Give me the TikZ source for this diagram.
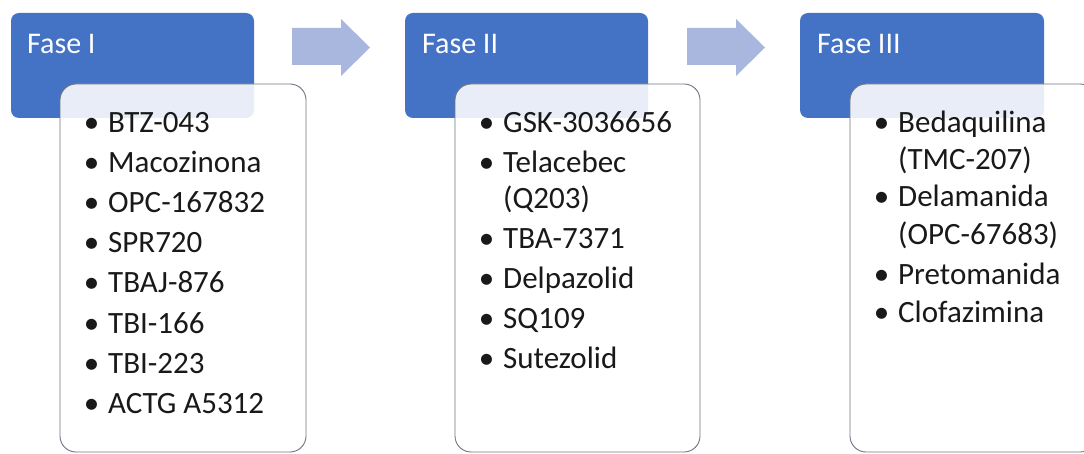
\documentclass[tikz,border=0pt]{standalone}
\usepackage{fontspec}
\setmainfont{Carlito}
\definecolor{phaseblue}{RGB}{68,114,196}
\definecolor{arrowblue}{RGB}{169,183,222}
\definecolor{edgegray}{RGB}{110,118,130}
\definecolor{txt}{RGB}{25,25,25}
\tikzset{
  phasebox/.style={fill=phaseblue, rounded corners=8pt},
  listbox/.style={draw=edgegray, line width=0.9pt, fill=white, fill opacity=0.88, rounded corners=16pt},
  arrowshape/.style={fill=arrowblue},
  hdr/.style={anchor=base west, inner sep=0pt, text=white, font=\fontsize{30}{36}\selectfont},
  itm/.style={anchor=base west, inner sep=0pt, text=txt, font=\fontsize{31}{38}\selectfont},
}
\newcommand{\bul}{\llap{•\hspace{9pt}}}
\begin{document}
\begin{tikzpicture}[x=1pt,y=-1pt]
\useasboundingbox (0,0) rectangle (1084,454);
\clip (0,0) rectangle (1084,454);
% arrows
\fill[arrowshape] (292,28) -- (341,28) -- (341,19) -- (370,47.5) -- (341,76) -- (341,65) -- (292,65) -- cycle;
\fill[arrowshape] (687,28) -- (736,28) -- (736,19) -- (765,47.5) -- (736,76) -- (736,65) -- (687,65) -- cycle;
% phase boxes
\fill[phasebox] (11,13) rectangle (254,118);
\fill[phasebox] (405,13) rectangle (648,118);
\fill[phasebox] (800,13) rectangle (1044,118);
\node[hdr] (h1) at (27,54) {Fase I};
\node[hdr] (h2) at (422,54) {Fase II};
\node[hdr] (h3) at (817,54) {Fase III};
% list boxes
\draw[listbox] (60,84) rectangle (306,452);
\draw[listbox] (455,84) rectangle (700,452);
\draw[listbox] (850,84) rectangle (1096,452);
% Fase I items
\node[itm] (a1) at (108,133) {\bul BTZ-043};
\node[itm] (a2) at (108,173) {\bul Macozinona};
\node[itm] (a3) at (108,213) {\bul OPC-167832};
\node[itm] (a4) at (108,253) {\bul SPR720};
\node[itm] (a5) at (108,293) {\bul TBAJ-876};
\node[itm] (a6) at (108,333) {\bul TBI-166};
\node[itm] (a7) at (108,373) {\bul TBI-223};
\node[itm] (a8) at (108,413) {\bul ACTG A5312};
% Fase II items
\node[itm] (b1) at (503,133) {\bul GSK-3036656};
\node[itm] (b2) at (503,173) {\bul Telacebec};
\node[itm] (b2w) at (503,209) {(Q203)};
\node[itm] (b3) at (503,249) {\bul TBA-7371};
\node[itm] (b4) at (503,289) {\bul Delpazolid};
\node[itm] (b5) at (503,328) {\bul SQ109};
\node[itm] (b6) at (503,368) {\bul Sutezolid};
% Fase III items
\node[itm] (c1) at (898,133) {\bul Bedaquilina};
\node[itm] (c1w) at (898,170) {(TMC-207)};
\node[itm] (c2) at (898,207) {\bul Delamanida};
\node[itm] (c2w) at (898,245) {(OPC-67683)};
\node[itm] (c3) at (898,284) {\bul Pretomanida};
\node[itm] (c4) at (898,322) {\bul Clofazimina};
\end{tikzpicture}
\end{document}
